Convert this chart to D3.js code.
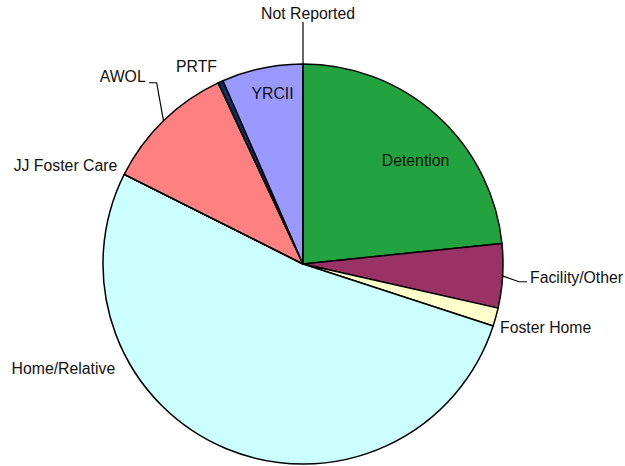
<!DOCTYPE html>
<html>
<head>
<meta charset="utf-8">
<script src="https://cdn.jsdelivr.net/npm/d3@7/dist/d3.min.js"></script>
<style>
  html, body { margin: 0; padding: 0; background: #fff; }
  svg text { font-family: "Liberation Sans", Arial, Helvetica, sans-serif; font-size: 15.8px; fill: #111; }
</style>
</head>
<body>
<svg id="chart" width="625" height="466"></svg>
<script>
// Placement categories (clockwise from 12 o'clock) and their shares (%)
const categories = ["Detention", "Facility/Other", "Foster Home", "Home/Relative",
                    "JJ Foster Care", "AWOL", "PRTF", "YRCII", "Not Reported"];
const shares = [23.36, 5.18, 1.48, 52.37, 0, 10.64, 0.42, 6.55, 0];
const colors = ["#22a33f", "#993366", "#ffffcc", "#ccffff",
                "#ff8080", "#ff8080", "#0f3361", "#9999ff", "#9999ff"];

// Label placement: offset from the point where the slice's mid-angle meets the rim.
// "leader" lists intermediate points (relative to that rim point) for the connector line.
const labelLayout = {
  "Detention":      { dx: -21.4, dy: 50.2, anchor: "middle" },
  "Facility/Other": { dx: 27.4,  dy: 7.4,  anchor: "start", leader: [[16.4, 5.8], [24.4, 5.8]] },
  "Foster Home":    { dx: 4.2,   dy: 16.2, anchor: "start" },
  "Home/Relative":  { dx: -215.4, dy: -74.7, anchor: "start" },
  "JJ Foster Care": { dx: -6.9,  dy: -3.7, anchor: "end" },
  "AWOL":           { dx: -17.8, dy: -39,  anchor: "end", leader: [[-6.8, -38], [-14.5, -38]] },
  "PRTF":           { dx: -3.6,  dy: -9.8, anchor: "end" },
  "YRCII":          { dx: 10.4,  dy: 30.8, anchor: "middle" },
  "Not Reported":   { dx: 5,     dy: -45,  anchor: "middle", leader: [[0, -42]] }
};

const width = 625, height = 466;
const cx = 303, cy = 264, radius = 200;

const data = categories.map((c, i) => ({ name: c, value: shares[i], color: colors[i] }));

const pie = d3.pie().value(d => d.value).sort(null).startAngle(0).endAngle(2 * Math.PI);
const arcs = pie(data);
const arc = d3.arc().innerRadius(0).outerRadius(radius);

const svg = d3.select("#chart");
const g = svg.append("g").attr("transform", `translate(${cx},${cy})`);

// non-empty slices first, then empty ones so their radial edge stays visible
const ordered = arcs.filter(d => d.value > 0).concat(arcs.filter(d => d.value === 0));

g.selectAll("path.slice")
  .data(ordered)
  .join("path")
  .attr("class", "slice")
  .attr("d", d => d.value > 0
    ? arc(d)
    : d3.line()([[0, 0], [radius * Math.sin(d.startAngle), -radius * Math.cos(d.startAngle)]]))
  .attr("fill", d => d.value > 0 ? d.data.color : "none")
  .attr("stroke", "#000")
  .attr("stroke-width", 1.5)
  .attr("stroke-linejoin", "round");

// rim point at a slice's mid-angle
function rimPoint(d) {
  const a = (d.startAngle + d.endAngle) / 2;
  return [radius * Math.sin(a), -radius * Math.cos(a)];
}

const labels = g.append("g");
arcs.forEach(d => {
  const lay = labelLayout[d.data.name];
  const [px, py] = rimPoint(d);
  if (lay.leader) {
    const pts = [[px, py]].concat(lay.leader.map(([x, y]) => [px + x, py + y]));
    labels.append("path")
      .attr("d", d3.line()(pts))
      .attr("fill", "none")
      .attr("stroke", "#000")
      .attr("stroke-width", 1.2);
  }
  labels.append("text")
    .attr("x", px + lay.dx)
    .attr("y", py + lay.dy)
    .attr("text-anchor", lay.anchor)
    .text(d.data.name);
});
</script>
</body>
</html>
